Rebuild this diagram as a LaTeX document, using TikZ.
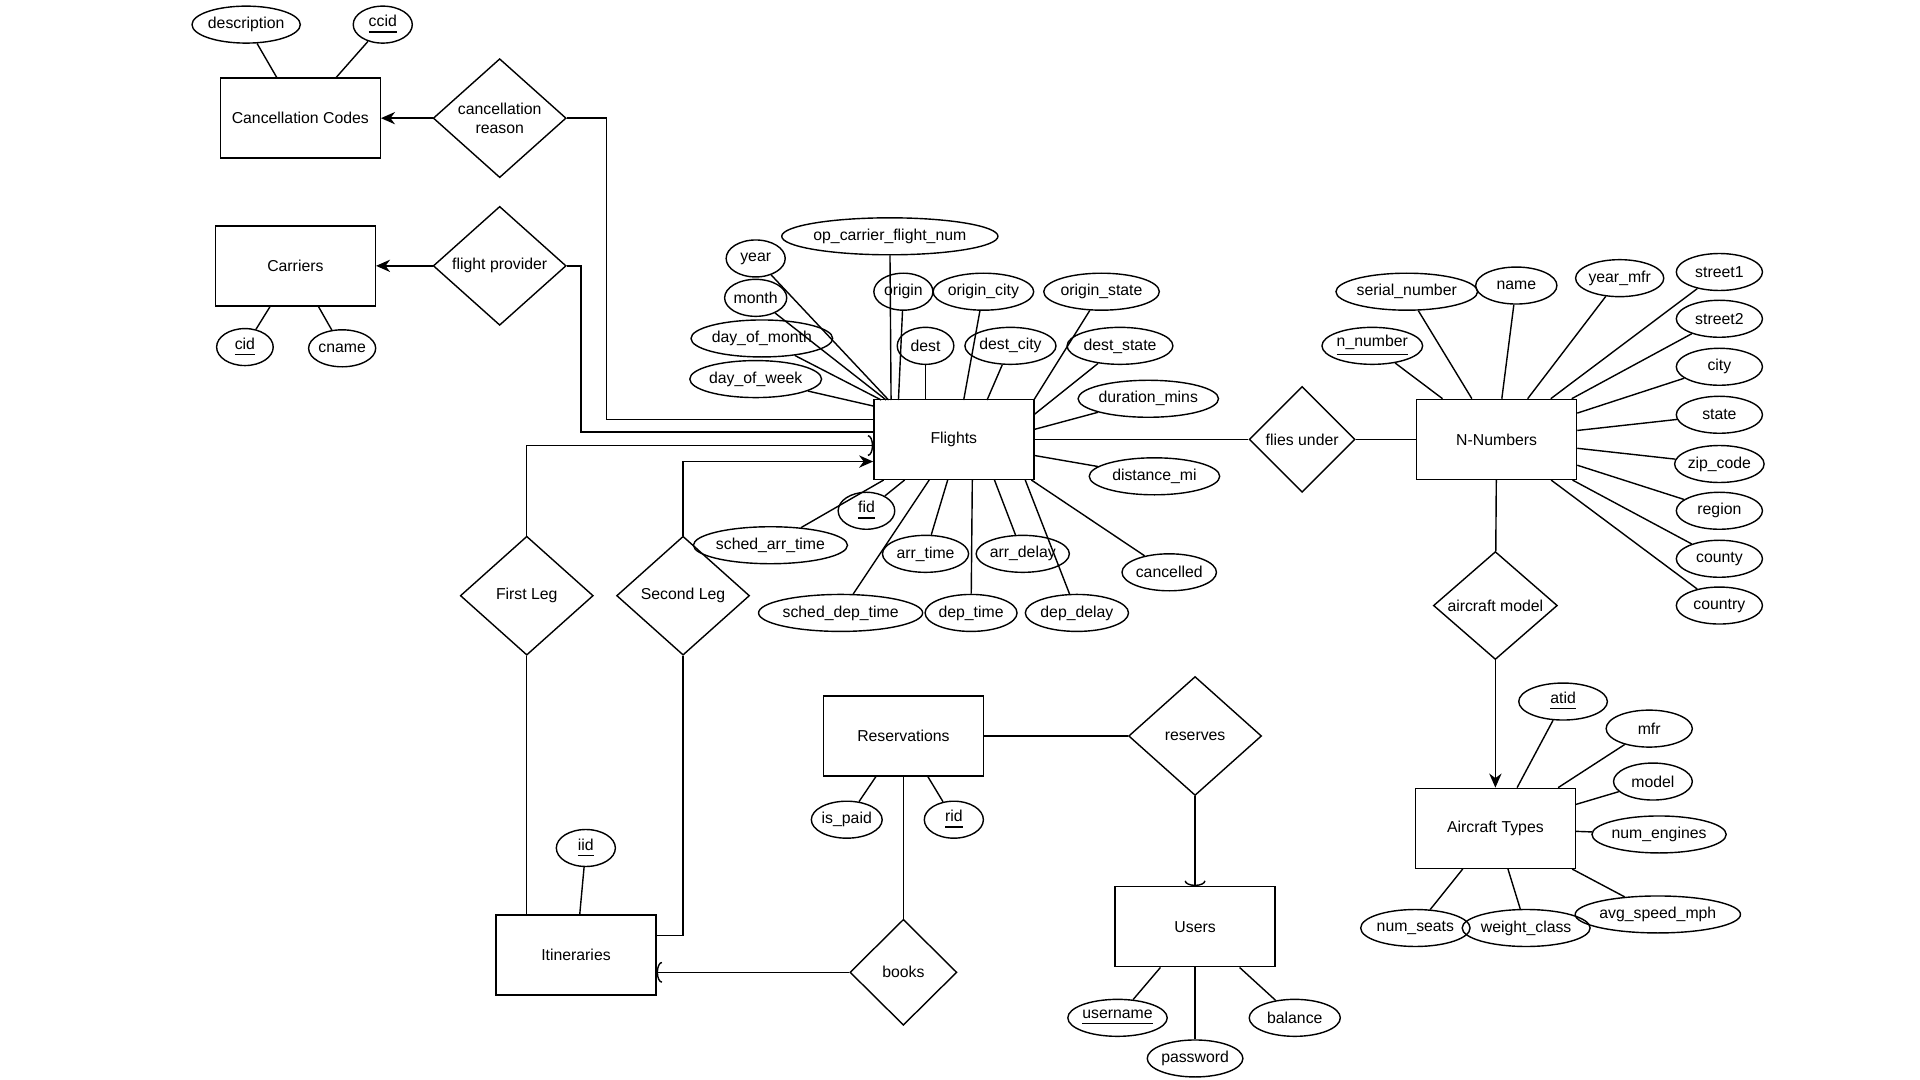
\documentclass[tikz,border=0pt]{standalone}
\usepackage{fontspec}
\setmainfont{Liberation Sans}
\usetikzlibrary{shapes.geometric,arrows.meta}
\tikzset{Entity/.style={draw, minimum width=1.6cm, minimum height=0.8cm, inner sep=1pt},
  Attr/.style={draw, ellipse, minimum height=0.37cm, inner sep=0pt},
  Rel/.style={draw, diamond, aspect=1.1, minimum width=1.33cm, minimum height=1.19cm, inner sep=0pt, align=center},
  Many/.style={-{Arc Barb[width=6pt,length=1.5pt]}},
  One/.style={-{Stealth[length=4pt,width=3.5pt]}}}
\begin{document}
\begin{tikzpicture}[x=0.012308cm, y=-0.012308cm, font=\fontsize{4.5}{5.4}\selectfont, line width=0.4pt]
	\useasboundingbox (0,0) rectangle (1560,877.5);
	% entities
	\node[Entity] (cc) at (244,96) {Cancellation Codes};
	\node[Entity] (car) at (240,216) {Carriers};
	\node[Entity] (fl) at (775,357) {Flights};
	\node[Entity] (nn) at (1216,357) {N-Numbers};
	\node[Entity] (at) at (1215,673) {Aircraft Types};
	\node[Entity] (res) at (734,598) {Reservations};
	\node[Entity] (us) at (971,753) {Users};
	\node[Entity] (it) at (468,776) {Itineraries};
	% relations
	\node[Rel] (cr) at (406,96) {cancellation\\reason};
	\node[Rel] (fp) at (406,216) {flight provider};
	\node[Rel, minimum width=1.06cm, minimum height=1.06cm, aspect=1] (fu) at (1058,357) {flies under};
	\node[Rel, minimum width=1.24cm, minimum height=1.08cm] (am) at (1215,492) {aircraft model};
	\node[Rel] (fleg) at (428,484) {First Leg};
	\node[Rel] (sleg) at (555,484) {Second Leg};
	\node[Rel] (rv) at (971,598) {reserves};
	\node[Rel, minimum width=1.07cm, minimum height=1.06cm, aspect=1] (bk) at (734,790) {books};
	% attributes of Flights, each line ends at its own point on the box
	\foreach \n/\x/\y/\w/\t/\px/\py in {f1/614/210/48/year/722/325, f2/614/242/48/month/720/325,
		f3/619/275/96/day\_of\_month/716/325, f4/614/308/96/day\_of\_week/710/330,
		f5/723/192/156/op\_carrier\_flight\_num/724/325, f6/734/237/48/origin/730/325, f7/799/237/74/origin\_city/783/325,
		f8/895/237/90/origin\_state/840/325, f9/752/281/46/dest/752/325, f10/821/281/74/dest\_city/802/325,
		f11/910/281/86/dest\_state/840/337, f12/933/324/106/duration\_mins/840/349, f13/938/387/106/distance\_mi/840/370,
		f14/704/415/46/\underline{fid}/735/390, f15/626/443/106/sched\_arr\_time/718/390, f16/752/450/70/arr\_time/770/390,
		f17/831/450/66/arr\_delay/808/390, f18/950/465/76/cancelled/838/390, f19/683/498/110/sched\_dep\_time/755/390,
		f20/789/498/70/dep\_time/790/390, f21/875/498/76/dep\_delay/833/390}{%
		\node[Attr, minimum width=\w*0.012308cm] (\n) at (\x,\y) {\t};
		\draw (\n) -- (\px,\py);
	}
	% other attributes
	\foreach \n/\x/\y/\w/\t/\e in {a1/200/20/88/description/cc, a2/311/20/48/\underline{ccid}/cc,
		a3/199/282/46/\underline{cid}/car, a4/278/283/54/cname/car,
		n1/1143/237/100/serial\_number/nn, n2/1232/232/66/name/nn, n3/1316/226/70/year\_mfr/nn, n4/1115/281/68/\underline{n\_number}/nn,
		n5/1397/221/70/street1/nn, n6/1397/259/70/street2/nn, n7/1397/298/70/city/nn, n8/1397/337/70/state/nn,
		n9/1397/377/70/zip\_code/nn, n10/1397/415/70/region/nn, n11/1397/454/70/county/nn, n12/1397/492/70/country/nn,
		t1/1270/570/72/\underline{atid}/at, t2/1340/592/70/mfr/at, t3/1343/635/64/model/at, t4/1348/678/100/num\_engines/at,
		t5/1347/743/106/avg\_speed\_mph/at, t6/1240/754/94/weight\_class/at, t7/1150/754/70/num\_seats/at,
		r1/688/666/50/is\_paid/res, r2/775/666/48/\underline{rid}/res, i1/476/689/48/\underline{iid}/it,
		u1/908/827/76/\underline{username}/us, u2/971/860/72/password/us, u3/1052/827/74/balance/us}{%
		\node[Attr, minimum width=\w*0.012308cm] (\n) at (\x,\y) {\t};
		\draw (\n) -- (\e);
	}
	% connectors
	\draw[One] (cr) -- (cc);
	\draw (cr.east) -| (493,341) -- (fl.west |- 0,341);
	\draw[One] (fp) -- (car);
	\draw (fp.east) -| (472,351) -- (fl.west |- 0,351);
	\draw[Many] (fleg.north) |- (fl.west |- 0,362);
	\draw[One] (sleg.north) |- (fl.west |- 0,375);
	\draw (fleg.south) -- (fleg.south |- it.north);
	\draw (sleg.south) |- (it.east |- 0,760);
	\draw (fl) -- (fu) -- (nn);
	\draw (nn) -- (am);
	\draw[One] (am) -- (at);
	\draw (res) -- (rv);
	\draw[Many] (rv) -- (us);
	\draw (res.south) -- (bk.north);
	\draw[Many] (bk) -- (it.east |- bk);
\end{tikzpicture}
\end{document}
